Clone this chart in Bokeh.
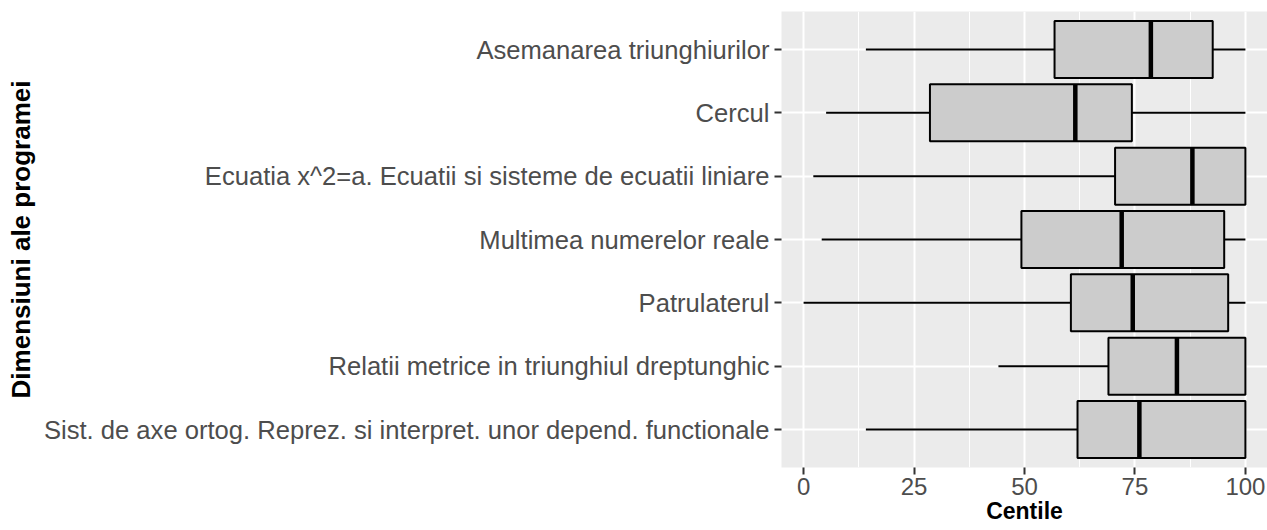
from bokeh.plotting import figure
from bokeh.models import FactorRange, Range1d, FixedTicker, ColumnDataSource
from bokeh.embed import file_html
from bokeh.resources import INLINE

categories = [
    "Asemanarea triunghiurilor",
    "Cercul",
    "Ecuatia x^2=a. Ecuatii si sisteme de ecuatii liniare",
    "Multimea numerelor reale",
    "Patrulaterul",
    "Relatii metrice in triunghiul dreptunghic",
    "Sist. de axe ortog. Reprez. si interpret. unor depend. functionale",
]
lower = [14.1, 5.1, 2.2, 4.1, 0.0, 44.1, 14.1]
q1 = [56.8, 28.6, 70.5, 49.3, 60.5, 69.0, 62.0]
median = [78.6, 61.5, 88.0, 72.0, 74.5, 84.5, 76.0]
q3 = [92.6, 74.3, 100.0, 95.2, 96.1, 100.0, 100.0]
upper = [100.0, 100.0, 100.0, 100.0, 100.0, 100.0, 100.0]
x_ticks = [0, 25, 50, 75, 100]
x_minor = [12.5, 37.5, 62.5, 87.5]

src = ColumnDataSource(dict(
    cat=categories, lower=lower, q1=q1, median=median, q3=q3, upper=upper,
    m_lo=[(c, -0.45) for c in categories], m_hi=[(c, 0.45) for c in categories],
))

p = figure(
    width=1267, height=530,
    y_range=FactorRange(factors=list(reversed(categories)), range_padding=0.1,
                        range_padding_units="absolute"),
    x_range=Range1d(-5, 105),
    output_backend="svg", toolbar_location=None,
    min_border_left=781, min_border_top=11, min_border_right=0, min_border_bottom=63,
    x_axis_label="Centile", y_axis_label="Dimensiuni ale programei",
)
p.outline_line_color = None
p.background_fill_color = "#EBEBEB"
p.border_fill_color = "white"

# whiskers
p.segment(x0="lower", y0="cat", x1="q1", y1="cat", source=src, line_color="black", line_width=2)
p.segment(x0="q3", y0="cat", x1="upper", y1="cat", source=src, line_color="black", line_width=2)
# boxes
p.hbar(y="cat", left="q1", right="q3", height=0.9, source=src,
       fill_color="#CCCCCC", line_color="black", line_width=2)
# medians
p.segment(x0="median", y0="m_lo", x1="median", y1="m_hi", source=src,
          line_color="black", line_width=4.5)

p.xaxis.ticker = FixedTicker(ticks=x_ticks, minor_ticks=x_minor)
p.xgrid.grid_line_color = "white"
p.xgrid.grid_line_width = 2
p.xgrid.minor_grid_line_color = "white"
p.xgrid.minor_grid_line_width = 1
p.ygrid.grid_line_color = "white"
p.ygrid.grid_line_width = 2

for ax in (p.xaxis, p.yaxis):
    ax.axis_line_color = None
    ax.major_tick_line_color = "#333333"
    ax.major_tick_line_width = 2
    ax.major_tick_out = 7
    ax.major_tick_in = 0
    ax.minor_tick_line_color = None
    ax.major_label_text_color = "#4D4D4D"
    ax.major_label_text_font = "Liberation Sans"
    ax.axis_label_text_font = "Liberation Sans"
    ax.axis_label_text_font_style = "bold"
    ax.axis_label_text_color = "black"

p.yaxis.major_label_text_font_size = "25.6px"
p.yaxis.major_label_standoff = 5
p.yaxis.axis_label_text_font_size = "26px"
p.yaxis.axis_label_standoff = 5
p.xaxis.major_label_text_font_size = "24px"
p.xaxis.major_label_standoff = 3
p.xaxis.axis_label_text_font_size = "23px"
p.xaxis.axis_label_standoff = 0

open("out.html", "w").write(file_html(p, INLINE))
